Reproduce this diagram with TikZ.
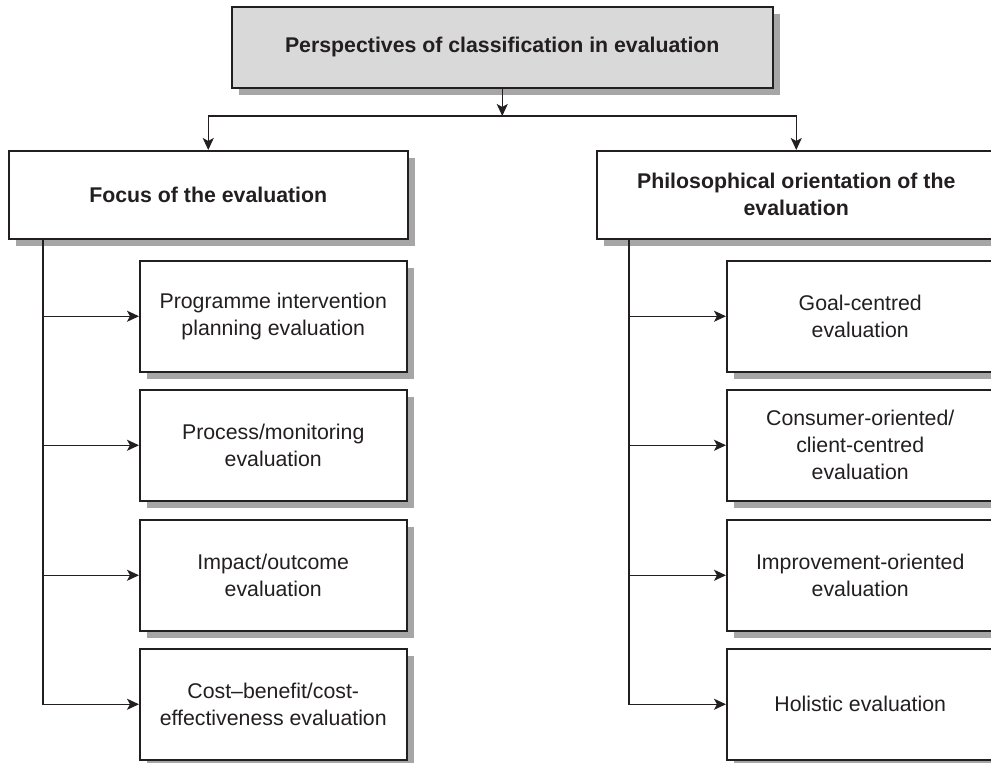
\documentclass[tikz,border=0pt]{standalone}
\usepackage{fontspec}
\setmainfont{Liberation Sans}
\usetikzlibrary{arrows.meta,shadows}
\definecolor{boxgray}{RGB}{217,217,217}
\definecolor{shadowgray}{RGB}{166,166,166}
\definecolor{inkdark}{RGB}{35,31,32}
\tikzset{
  card/.style={draw=inkdark, line width=1.5pt, fill=white, anchor=north west, inner sep=0pt,
    align=center, text=inkdark, font=\fontsize{21.3}{27}\selectfont,
    drop shadow={shadow xshift=7pt, shadow yshift=-7pt, fill=shadowgray, opacity=1}},
  headcard/.style={card, font=\fontsize{21.3}{27}\selectfont\bfseries},
  leafcard/.style={card, minimum width=267pt, minimum height=111pt},
  link/.style={draw=inkdark, line width=1.5pt, -{Stealth[length=12pt,width=11pt,inset=3pt]}},
}
\begin{document}
\begin{tikzpicture}[x=1pt, y=-1pt]
    \clip (0,0) rectangle (991,763);
    \fill[white] (0,0) rectangle (991,763);

    % Nodes
    \node[headcard, fill=boxgray, minimum width=541pt, minimum height=81pt] (Root) at (231,6) {Perspectives of classification in evaluation};
    \node[headcard, minimum width=399pt, minimum height=88pt] (Focus) at (8,150) {Focus of the evaluation};
    \node[headcard, minimum width=399pt, minimum height=88pt] (Philo) at (596,150) {Philosophical orientation of the\\evaluation};

    % Focus branch
    \node[leafcard] (FocusA) at (139,260) {Programme intervention\\planning evaluation};
    \node[leafcard] (FocusB) at (139,389) {Process/monitoring\\evaluation};
    \node[leafcard] (FocusC) at (139,519) {Impact/outcome\\evaluation};
    \node[leafcard] (FocusD) at (139,648) {Cost--benefit/cost-\\effectiveness evaluation};

    % Philosophical branch
    \node[leafcard] (PhiloA) at (726,260) {Goal-centred\\evaluation};
    \node[leafcard] (PhiloB) at (726,389) {Consumer-oriented/\\client-centred\\evaluation};
    \node[leafcard] (PhiloC) at (726,519) {Improvement-oriented\\evaluation};
    \node[leafcard] (PhiloD) at (726,648) {Holistic evaluation};

    % Connectors
    \coordinate (Split) at (Root.south |- 0,116);
    \draw[link] (Root.south) -- (Split);
    \draw[link] (Split) -| (Focus.north);
    \draw[link] (Split) -| (Philo.north);

    \coordinate (FocusTrunk) at (Focus.south -| 43,0);
    \draw[link] (FocusTrunk) |- (FocusD.west);
    \foreach \n in {FocusA,FocusB,FocusC}
        \draw[link] (FocusTrunk |- \n.west) -- (\n.west);

    \coordinate (PhiloTrunk) at (Philo.south -| 629,0);
    \draw[link] (PhiloTrunk) |- (PhiloD.west);
    \foreach \n in {PhiloA,PhiloB,PhiloC}
        \draw[link] (PhiloTrunk |- \n.west) -- (\n.west);
\end{tikzpicture}
\end{document}
